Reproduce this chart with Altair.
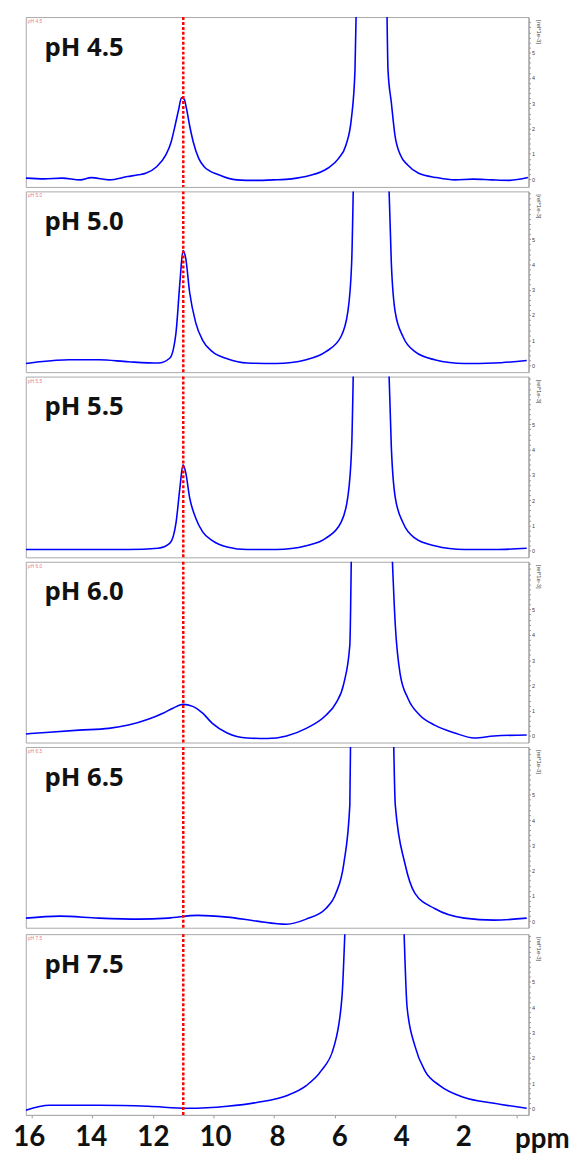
import altair as alt
import pandas as pd

LABELS = ["pH 4.5", "pH 5.0", "pH 5.5", "pH 6.0", "pH 6.5", "pH 7.5"]

# chemical shift (ppm) and intensity (rel*1e-3)
P1_PPM = [16.2, 15.6, 15.0, 14.4, 14.04, 13.44, 12.84, 12.48, 12.24, 11.88, 11.58, 11.4, 11.27, 11.15, 11.06,
          10.97, 10.89, 10.79, 10.67, 10.49, 10.31, 9.83, 9.23, 8.63, 8.03, 7.43, 6.83, 6.23, 5.87, 5.63, 5.45,
          5.33, 5.27, 4.78, 4.29, 4.24, 4.13, 4.01, 3.83, 3.59, 3.23, 2.63, 2.03, 1.43, 0.82, 0.22, -0.38]
P1_INT = [0.04, 0.01, 0.04, -0.03, 0.06, -0.03, 0.1, 0.17, 0.23, 0.49, 0.95, 1.47, 2.12, 2.77, 3.22,
          3.16, 2.77, 2.12, 1.47, 0.82, 0.49, 0.17, -0.03, -0.05, -0.03, 0.01, 0.14, 0.43, 0.82, 1.34, 2.38,
          4.32, 8.0, 40.0, 8.0, 4.32, 3.03, 1.73, 0.95, 0.56, 0.23, 0.06, -0.03, 0.0, -0.03, -0.05, 0.06]

P2_PPM = [16.2, 15.74, 14.76, 13.79, 12.81, 11.83, 11.44, 11.24, 11.11, 11.01, 10.92, 10.79, 10.59, 10.36,
          10.04, 9.55, 8.89, 7.92, 6.94, 6.29, 5.8, 5.57, 5.44, 5.37, 4.8, 4.23, 4.13, 4.0, 3.74, 3.35, 2.7,
          1.72, 0.74, -0.34]
P2_INT = [0.08, 0.15, 0.23, 0.23, 0.15, 0.1, 0.3, 1.3, 3.3, 4.55, 4.25, 2.9, 1.7, 1.0,
          0.55, 0.27, 0.1, 0.08, 0.23, 0.55, 1.13, 2.1, 4.06, 8.0, 40.0, 8.0, 4.06, 2.1, 1.13, 0.55, 0.23,
          0.08, 0.1, 0.2]

P3_PPM = [16.2, 15.74, 14.76, 13.79, 12.81, 11.83, 11.44, 11.24, 11.11, 11.01, 10.92, 10.79, 10.59, 10.36,
          10.04, 9.55, 8.89, 7.92, 6.94, 6.29, 5.8, 5.57, 5.44, 5.37, 4.8, 4.23, 4.13, 4.0, 3.74, 3.35, 2.7,
          1.72, 0.74, -0.34]
P3_INT = [0.05, 0.05, 0.05, 0.05, 0.05, 0.1, 0.3, 1.1, 2.5, 3.4, 3.1, 2.1, 1.3, 0.75,
          0.4, 0.15, 0.05, 0.05, 0.2, 0.5, 1.1, 2.1, 4.1, 8.0, 40.0, 8.0, 4.1, 2.1, 1.1, 0.5, 0.2,
          0.05, 0.05, 0.1]

P4_PPM = [16.2, 15.42, 14.44, 13.46, 12.81, 12.16, 11.67, 11.34, 11.01, 10.69, 10.36, 10.04, 9.55, 8.89,
          8.24, 7.59, 6.94, 6.29, 5.96, 5.7, 5.5, 5.44, 4.8, 4.13, 4.0, 3.84, 3.58, 3.19, 2.7, 2.04, 1.39,
          0.74, -0.34]
P4_INT = [0.08, 0.15, 0.23, 0.3, 0.43, 0.66, 0.9, 1.1, 1.25, 1.17, 0.9, 0.5, 0.12, -0.08,
          -0.1, 0.0, 0.3, 0.82, 1.3, 2.07, 3.6, 8.0, 40.0, 8.0, 4.4, 2.46, 1.48, 0.82, 0.43, 0.12, -0.08,
          0.0, 0.04]

P5_PPM = [16.2, 15.09, 13.79, 12.48, 11.5, 10.52, 9.55, 8.57, 7.59, 6.94, 6.29, 5.96, 5.7, 5.5, 5.47,
          4.8, 4.07, 4.0, 3.68, 3.35, 2.7, 1.72, 0.74, -0.34]
P5_INT = [0.12, 0.2, 0.12, 0.08, 0.12, 0.23, 0.16, 0.0, -0.12, 0.08, 0.5, 1.1, 2.27, 4.6, 8.0,
          40.0, 8.0, 4.6, 2.27, 1.1, 0.5, 0.12, 0.04, 0.12]

P6_PPM = [16.2, 15.42, 13.79, 12.16, 10.85, 9.55, 8.57, 7.59, 6.94, 6.45, 6.02, 5.76, 5.63,
          4.7, 3.74, 3.61, 3.35, 3.02, 2.53, 1.72, 0.74, -0.34]
P6_INT = [-0.08, 0.12, 0.12, 0.08, 0.0, 0.08, 0.23, 0.5, 0.9, 1.48, 2.46, 4.4, 8.0,
          40.0, 8.0, 4.0, 2.46, 1.48, 0.9, 0.43, 0.2, 0.0]

PPMS = [P1_PPM, P2_PPM, P3_PPM, P4_PPM, P5_PPM, P6_PPM]
INTS = [P1_INT, P2_INT, P3_INT, P4_INT, P5_INT, P6_INT]

RED_PPM = 11.0
AXIS_LABELS = [16, 14, 12, 10, 8, 6, 4, 2]
Y_UNIT = "[rel*1e-3]"

W = 509
HEIGHTS = [172, 183, 183, 183, 183, 183]
Y_DOMAINS = [[-0.31, 6.41]] + [[-0.26, 6.89]] * 5
X_DOMAIN = [-0.4, 16.2]

panels = []
for i in range(6):
    df = pd.DataFrame({"ppm": PPMS[i], "intensity": INTS[i]})
    h = HEIGHTS[i]
    ytop = Y_DOMAINS[i][1]
    yticks = [round(k * 0.2, 1) for k in range(0, 40) if k * 0.2 <= ytop - 0.05]
    xenc = alt.X("ppm:Q", scale=alt.Scale(domain=X_DOMAIN, reverse=True, nice=False, zero=False),
                 axis=None if i < 5 else alt.Axis(orient="bottom", values=[v * 0.5 for v in range(0, 33)],
                                                  labels=False, tickSize=3, tickColor="#999",
                                                  domainColor="#aaa", title=None, grid=False))
    line = alt.Chart(df).mark_line(color="#0000ff", strokeWidth=1.6, clip=True,
                                   interpolate="monotone").encode(
        x=xenc,
        y=alt.Y("intensity:Q",
                scale=alt.Scale(domain=Y_DOMAINS[i], nice=False, zero=False),
                axis=alt.Axis(orient="right", values=yticks, grid=False, tickSize=2,
                              labelExpr="(datum.value % 1 == 0 && datum.value <= 5) ? '' + datum.value : ''",
                              labelFontSize=5.5, labelColor="#444", labelPadding=1,
                              domainColor="#999", tickColor="#999", title=None)),
        order=alt.Order("ppm:Q", sort="descending"),
    )
    rule = alt.Chart(pd.DataFrame({"ppm": [RED_PPM]})).mark_rule(
        color="#ff0000", strokeWidth=2.5, strokeDash=[3, 2]
    ).encode(x=alt.X("ppm:Q", scale=alt.Scale(domain=X_DOMAIN, reverse=True, nice=False, zero=False)))
    label = alt.Chart(pd.DataFrame({"label": [LABELS[i]]})).mark_text(
        align="left", baseline="alphabetic", font="Open Sans", fontWeight="bold", fontSize=26, color="#111"
    ).encode(text="label:N", x=alt.value(19), y=alt.value(39))
    tiny = alt.Chart(pd.DataFrame({"label": [LABELS[i]]})).mark_text(
        align="left", baseline="top", fontSize=5, color="#e88080"
    ).encode(text="label:N", x=alt.value(2), y=alt.value(2))
    unit = alt.Chart(pd.DataFrame({"u": [Y_UNIT]})).mark_text(
        align="left", baseline="middle", fontSize=6, color="#444", angle=90
    ).encode(text="u:N", x=alt.value(W + 11), y=alt.value(3))
    inner = alt.layer(line, rule, label, tiny, unit)
    if i == 5:
        lab = alt.Chart(pd.DataFrame({"v": AXIS_LABELS})).mark_point(opacity=0).encode(
            x=alt.X("v:Q", scale=alt.Scale(domain=[-0.1, 16.095], reverse=True, nice=False, zero=False),
                    axis=alt.Axis(orient="bottom", values=AXIS_LABELS, ticks=False, domain=False,
                                  labelFontSize=28, labelFont="Lato", labelFontWeight="bold",
                                  labelColor="#111", labelPadding=9, title=None, grid=False,
                                  labelFlush=False, labelOverlap=False)),
            y=alt.value(0),
        )
        ppm = alt.Chart(pd.DataFrame({"t": ["ppm"]})).mark_text(
            font="Lato", fontWeight="bold", fontSize=28, color="#111", baseline="alphabetic", align="center"
        ).encode(text="t:N", x=alt.value(523), y=alt.value(h + 33))
        inner = alt.layer(inner, lab, ppm).resolve_scale(x="independent")
    panels.append(inner.properties(width=W, height=h))

chart = alt.vconcat(*panels, spacing=0.5).properties(
    padding={"left": 4, "top": 0, "right": 0, "bottom": 0}
).configure_view(stroke="#a8a8a8", strokeWidth=1)

chart.save("out.html", embed_options={"renderer": "svg", "actions": False})
